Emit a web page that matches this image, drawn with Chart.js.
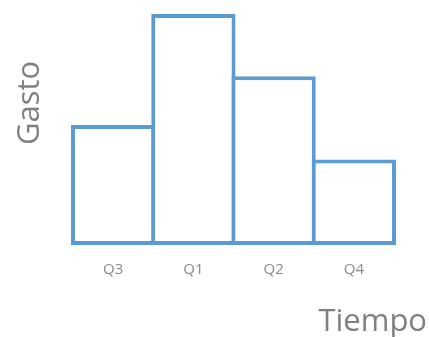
<!DOCTYPE html>
<html lang="es">
<head>
  <meta charset="UTF-8">
  <title>Gasto por trimestre</title>
  <script src="https://cdn.jsdelivr.net/npm/chart.js@4.4.1/dist/chart.umd.min.js"></script>
  <style>
    html, body { margin: 0; padding: 0; background: #fff; }
    canvas { display: block; }
  </style>
</head>
<body>
  <canvas id="gastoChart" width="429" height="337"></canvas>

  <script>
    // Data
    const quarters = ["Q3", "Q1", "Q2", "Q4"];
    const gasto = [52, 100, 73, 37];
    const xTitle = "Tiempo";
    const yTitle = "Gasto";

    const blue = '#5b9bd5';
    const grey = '#808080';

    // axis titles sit off-centre in the reference, so draw them here
    const axisTitles = {
      id: 'axisTitles',
      afterDraw(chart) {
        const ctx = chart.ctx;
        ctx.save();
        ctx.fillStyle = grey;
        ctx.font = '31px "Open Sans"';
        ctx.textBaseline = 'alphabetic';
        ctx.textAlign = 'right';
        ctx.fillText(xTitle, 427, 331);
        ctx.translate(39, 103);
        ctx.rotate(-Math.PI / 2);
        ctx.textAlign = 'center';
        ctx.fillText(yTitle, 0, 0);
        ctx.restore();
      }
    };

    const ctx = document.getElementById('gastoChart').getContext('2d');
    new Chart(ctx, {
      type: 'bar',
      data: {
        labels: quarters,
        datasets: [{
          data: gasto,
          backgroundColor: '#ffffff',
          borderColor: blue,
          borderWidth: 4,
          borderSkipped: false,
          barPercentage: 1.05,
          categoryPercentage: 1,
          clip: false
        }]
      },
      options: {
        responsive: false,
        animation: false,
        layout: { padding: { left: 73, right: 35, top: 14, bottom: 0 } },
        plugins: {
          legend: { display: false },
          tooltip: { enabled: false }
        },
        scales: {
          x: {
            grid: { display: false, drawTicks: false },
            border: { display: false },
            ticks: {
              color: '#8a8a8a',
              font: { family: 'Open Sans', size: 15 },
              padding: 16,
              maxRotation: 0
            },
            afterFit(scale) { scale.height = 92; }
          },
          y: {
            display: false,
            min: 0,
            max: 100
          }
        }
      },
      plugins: [axisTitles]
    });
  </script>
</body>
</html>
